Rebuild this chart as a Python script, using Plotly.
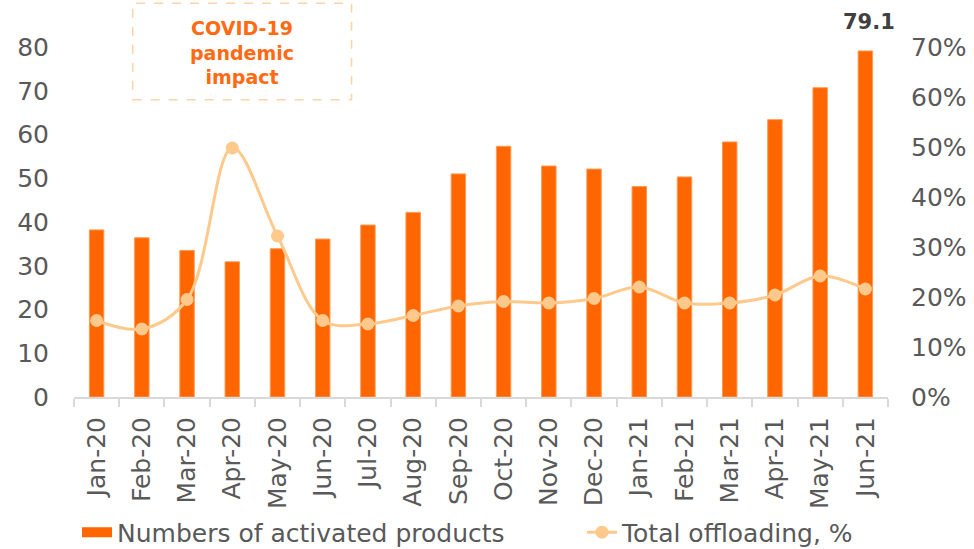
import plotly.graph_objects as go

months = ["Jan-20", "Feb-20", "Mar-20", "Apr-20", "May-20", "Jun-20", "Jul-20", "Aug-20", "Sep-20",
          "Oct-20", "Nov-20", "Dec-20", "Jan-21", "Feb-21", "Mar-21", "Apr-21", "May-21", "Jun-21"]
activated = [38.2, 36.4, 33.5, 30.9, 33.9, 36.1, 39.3, 42.2, 51.0,
             57.3, 52.8, 52.1, 48.1, 50.3, 58.3, 63.4, 70.7, 79.1]
offloading = [15.3, 13.6, 19.5, 49.8, 32.2, 15.3, 14.6, 16.3, 18.2,
              19.1, 18.8, 19.7, 22.0, 18.8, 18.8, 20.4, 24.2, 21.6]
left_ticks = [0, 10, 20, 30, 40, 50, 60, 70, 80]
right_ticks = [0, 10, 20, 30, 40, 50, 60, 70]

BAR = "#FF6600"
LINE = "#FFC98C"
GREY = "#595959"
FONT = "DejaVu Sans"

fig = go.Figure()
fig.add_trace(go.Bar(
    x=months, y=activated, name="Numbers of activated products",
    marker=dict(color=BAR, line=dict(color="#FF9A55", width=1)),
    yaxis="y", showlegend=False,
))
# legend entry for the bars drawn as a wide swatch (no marks on the plot)
fig.add_trace(go.Scatter(
    x=[None], y=[None], name="Numbers of activated products", mode="lines",
    line=dict(color=BAR, width=16), yaxis="y", legendwidth=460, hoverinfo="skip",
))
fig.add_trace(go.Scatter(
    x=months, y=offloading, name="Total offloading, %",
    mode="lines+markers",
    line=dict(color=LINE, width=3, shape="spline", smoothing=1.0),
    marker=dict(color=LINE, size=13),
    yaxis="y2",
))

fig.add_annotation(
    x=months[-1], y=activated[-1], text="<b>79.1</b>", showarrow=False,
    yanchor="bottom", yshift=15, xshift=4, font=dict(family=FONT, size=21, color="#404040"),
)
fig.add_annotation(
    xref="paper", yref="paper", x=0.2066, y=0.941, xanchor="center", yanchor="middle",
    text="<b>COVID-19<br>pandemic<br>impact</b>", showarrow=False,
    font=dict(family=FONT, size=19, color="#FF6A13"), align="center",
)
fig.add_shape(
    type="rect", xref="paper", yref="paper", x0=0.0721, x1=0.341, y0=0.812, y1=1.076,
    line=dict(color="#FFD3A6", width=1.5, dash="dash"), fillcolor="rgba(0,0,0,0)",
)

plot_h = 366
fig.update_layout(
    width=974, height=549,
    margin=dict(l=74, r=86, t=31, b=152, autoexpand=False),
    paper_bgcolor="white", plot_bgcolor="white",
    bargap=0.68,
    showlegend=True,
    legend=dict(orientation="h", x=0.0037, xanchor="left", y=-0.37, yanchor="middle",
                font=dict(family=FONT, size=25, color=GREY), itemwidth=30,
                tracegroupgap=0),
    font=dict(family=FONT, color=GREY),
    xaxis=dict(
        type="category", range=[-0.5, len(months) - 0.5],
        showline=True, linecolor="#D9D9D9", linewidth=2,
        ticks="outside", tickson="boundaries", ticklen=8, tickcolor="#D9D9D9", tickwidth=2,
        tickangle=-90, tickfont=dict(family=FONT, size=25, color=GREY),
        showgrid=False, ticklabelstandoff=8, automargin=False,
    ),
    yaxis=dict(
        range=[0, plot_h / 4.375], tickvals=left_ticks, showgrid=False, zeroline=False,
        showline=False, tickfont=dict(family=FONT, size=25, color=GREY),
        ticklabelstandoff=24, automargin=False,
    ),
    yaxis2=dict(
        overlaying="y", side="right", range=[0, plot_h / 5.0], tickvals=right_ticks,
        ticktext=[f"{v}%" for v in right_ticks], showgrid=False, zeroline=False,
        showline=False, tickfont=dict(family=FONT, size=25, color=GREY),
        ticklabelstandoff=22, automargin=False,
    ),
)

fig.write_html("out.html", config={"displayModeBar": False},
               post_script="document.body.style.margin='0';")
